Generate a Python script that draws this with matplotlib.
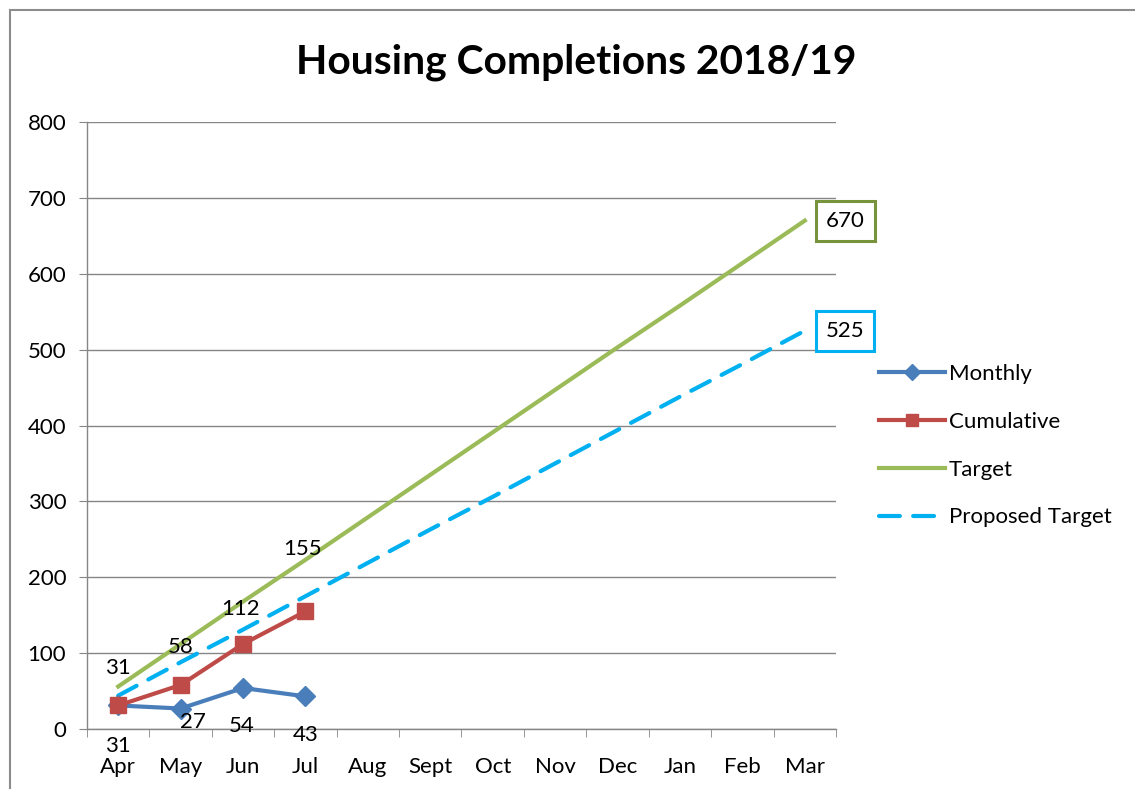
import matplotlib.pyplot as plt
from matplotlib.patches import Rectangle
from matplotlib.ticker import FixedLocator

plt.rcParams['font.family'] = ['Lato', 'DejaVu Sans']

months = ['Apr', 'May', 'Jun', 'Jul', 'Aug', 'Sept', 'Oct', 'Nov', 'Dec', 'Jan', 'Feb', 'Mar']
monthly = [31, 27, 54, 43]
cumulative = [31, 58, 112, 155]
target = [56, 112, 168, 223, 279, 335, 391, 447, 503, 558, 614, 670]
proposed = [44, 88, 131, 175, 219, 263, 306, 350, 394, 438, 481, 525]

# label offsets (points) - copied from where excel put them
monthly_off = [(0, -29), (9, -10), (-1, -27), (0, -28)]
cumul_off = [(0, 27), (0, 27), (-2, 25), (-2, 45)]

fig = plt.figure(figsize=(11.35, 7.89), dpi=100)
ax = fig.add_axes([87 / 1135, 60 / 789, 749 / 1135, 607 / 789])

x = list(range(len(months)))
ax.plot(x, target, color='#9BBB59', lw=3, label='Target', zorder=2)
ax.plot(x, proposed, color='#00B0F0', lw=3, ls=(0, (5, 3.2)), dash_capstyle='round',
        label='Proposed Target', zorder=2)
ax.plot(x[:len(monthly)], monthly, color='#4A7EBB', lw=3, marker='D', ms=10, label='Monthly', zorder=3)
ax.plot(x[:len(cumulative)], cumulative, color='#BE4B48', lw=3, marker='s', ms=11, label='Cumulative', zorder=4)

for i, v in enumerate(monthly):
    ax.annotate(str(v), (x[i], v), xytext=monthly_off[i], textcoords='offset points',
                ha='center', va='center', fontsize=16, zorder=5)
for i, v in enumerate(cumulative):
    ax.annotate(str(v), (x[i], v), xytext=cumul_off[i], textcoords='offset points',
                ha='center', va='center', fontsize=16, zorder=5)

ax.annotate(str(target[-1]), (x[-1], target[-1]), xytext=(15, 0), textcoords='offset points',
            ha='left', va='center', fontsize=16, annotation_clip=False,
            bbox=dict(boxstyle='square,pad=0.45', fc='white', ec='#77933C', lw=2.2))
ax.annotate(str(proposed[-1]), (x[-1], proposed[-1]), xytext=(15, 0), textcoords='offset points',
            ha='left', va='center', fontsize=16, annotation_clip=False,
            bbox=dict(boxstyle='square,pad=0.45', fc='white', ec='#00B0F0', lw=2.2))

ax.set_xlim(-0.5, 11.5)
ax.set_ylim(0, 800)
ax.set_xticks(x)
ax.set_xticklabels(months)
ax.xaxis.set_minor_locator(FixedLocator([i - 0.5 for i in range(13)]))
ax.tick_params(axis='x', which='major', length=0, pad=20, labelsize=16)
ax.tick_params(axis='x', which='minor', length=6, color='#868686', direction='out')
ax.set_yticks(range(0, 801, 100))
ax.tick_params(axis='y', length=6, color='#868686', pad=9, labelsize=16)

ax.grid(axis='y', color='#868686', lw=1)
ax.set_axisbelow(True)
for s in ['top', 'right']:
    ax.spines[s].set_visible(False)
for s in ['left', 'bottom']:
    ax.spines[s].set_color('#868686')
    ax.spines[s].set_linewidth(1)

h, l = ax.get_legend_handles_labels()
order = [2, 3, 0, 1]
fig.legend([h[i] for i in order], [l[i] for i in order], loc='upper left',
           bbox_to_anchor=(859 / 1135, 1 - 344 / 789), frameon=False, fontsize=16,
           handlelength=2.95, labelspacing=1.25, handletextpad=0.2, markerscale=0.8)

fig.text(576 / 1135, 1 - 62 / 789, 'Housing Completions 2018/19', ha='center', va='center',
         fontsize=29.3, fontweight='bold')

# outer chart border (right and bottom edges are cut off in the source)
fig.patches.append(Rectangle((10 / 1135, -0.05), 1.2, 1 - 10 / 789 + 0.05, transform=fig.transFigure,
                             fill=False, ec='#8C8C8C', lw=1.5))

fig.savefig('out.png', dpi=100)
